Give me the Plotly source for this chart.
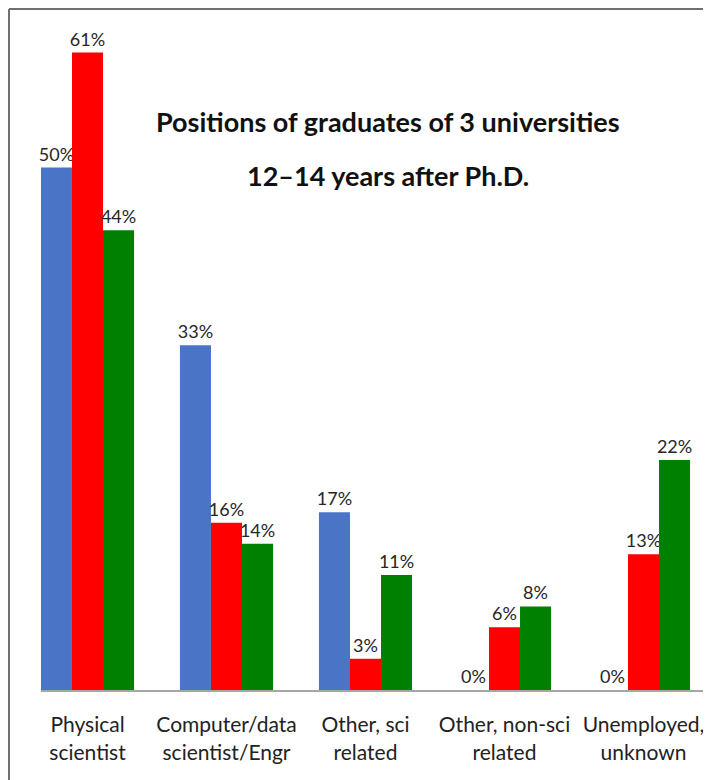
import plotly.graph_objects as go

categories = ["Physical<br>scientist", "Computer/data<br>scientist/Engr", "Other, sci<br>related",
              "Other, non-sci<br>related", "Unemployed,<br>unknown"]
series_names = ["University A", "University B", "University C"]
values_a = [50, 33, 17, 0, 0]
values_b = [61, 16, 3, 6, 13]
values_c = [44, 14, 11, 8, 22]
colors = ["#4a74c6", "#ff0000", "#008000"]

OFF = 8  # default page body margin
W, H = 711 - OFF, 780 - OFF
L, R, T = 41 - OFF, 0, 0
B = H - (690 - OFF)
plot_w = W - L - R
plot_h = H - T - B
cat_px = 139.0
x0 = -0.5 + 23 / cat_px
x1 = x0 + plot_w / cat_px
px_per_pct = 10.45
y1 = plot_h / px_per_pct

fig = go.Figure()
for name, vals, col in zip(series_names, [values_a, values_b, values_c], colors):
    fig.add_trace(go.Bar(
        x=list(range(len(categories))), y=vals, name=name,
        marker=dict(color=col, line=dict(width=0)),
        text=[f"{v}%" for v in vals], textposition="outside", constraintext="none",
        textfont=dict(family="Lato, Open Sans", size=18, color="#262626"),
        cliponaxis=False,
    ))

def px_x(p):
    return (p - OFF - L) / plot_w

def px_y(p):
    return (H - B - (p - OFF)) / plot_h

fig.update_layout(
    width=W, height=H,
    margin=dict(l=L, r=R, t=T, b=B),
    paper_bgcolor="white", plot_bgcolor="white",
    barmode="group", bargap=0.33, bargroupgap=0,
    showlegend=False,
    xaxis=dict(
        range=[x0, x1], tickmode="array", tickvals=list(range(len(categories))),
        ticktext=categories, showgrid=False, zeroline=False,
        showline=True, linecolor="#a6a6a6", linewidth=2, ticks="",
        ticklabeloverflow="allow", ticklabelstandoff=15,
        tickfont=dict(family="Lato, Liberation Sans", size=21, color="#222222"),
    ),
    yaxis=dict(range=[0, y1], visible=False, showgrid=False, zeroline=False),
    shapes=[
        dict(type="line", xref="paper", yref="paper", x0=px_x(9), x1=px_x(711), y0=px_y(9), y1=px_y(9),
             line=dict(color="#707070", width=2)),
        dict(type="line", xref="paper", yref="paper", x0=px_x(9), x1=px_x(9), y0=px_y(9), y1=px_y(780),
             line=dict(color="#707070", width=2)),
    ],
    annotations=[
        dict(text="<b>Positions of graduates of 3 universities</b>", xref="paper", yref="paper",
             x=px_x(388), y=px_y(122), xanchor="center", yanchor="middle", showarrow=False,
             font=dict(family="Lato, Liberation Sans", size=27, color="#111111")),
        dict(text="<b>12–14 years after Ph.D.</b>", xref="paper", yref="paper",
             x=px_x(388), y=px_y(175), xanchor="center", yanchor="middle", showarrow=False,
             font=dict(family="Lato, Liberation Sans", size=27, color="#111111")),
    ],
)

fig.write_html("out.html")
